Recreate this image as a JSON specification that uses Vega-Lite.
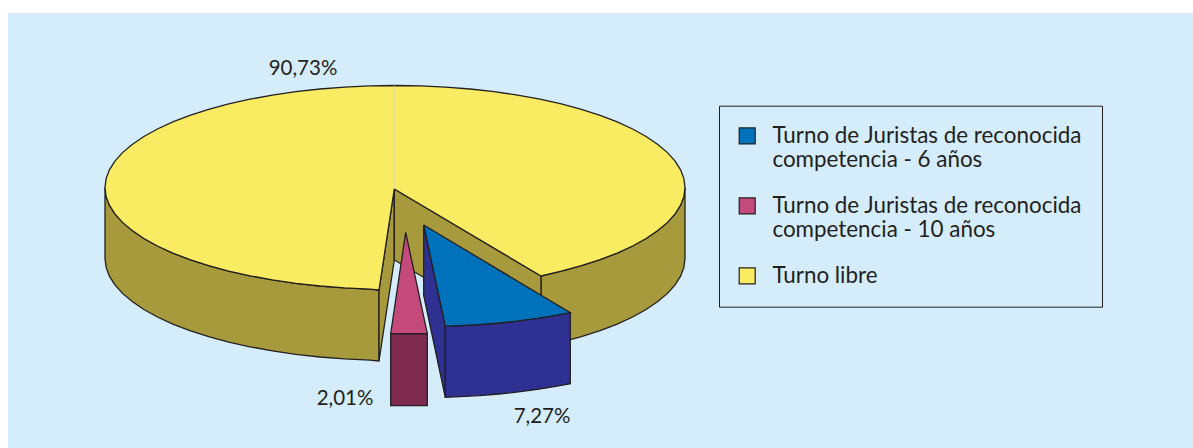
{"$schema":"https://vega.github.io/schema/vega-lite/v6.json","width":1185,"height":435,"padding":{"left":8,"top":13,"right":0,"bottom":0},"autosize":{"type":"none"},"background":"#FFFFFF","view":{"fill":"#D5EDFB","stroke":null},
"datasets":{"piezas":[
{"pieza":"izq","x":105,"y":187.5},{"pieza":"izq","x":106.1,"y":196.4},{"pieza":"izq","x":109.4,"y":205.2},{"pieza":"izq","x":114.9,"y":213.9},{"pieza":"izq","x":122.5,"y":222.4},{"pieza":"izq","x":132.2,"y":230.6},{"pieza":"izq","x":143.9,"y":238.5},{"pieza":"izq","x":157.4,"y":246},{"pieza":"izq","x":172.8,"y":253.1},{"pieza":"izq","x":189.9,"y":259.6},{"pieza":"izq","x":208.6,"y":265.6},{"pieza":"izq","x":228.7,"y":271.1},{"pieza":"izq","x":250,"y":275.8},{"pieza":"izq","x":272.4,"y":279.9},{"pieza":"izq","x":295.8,"y":283.3},{"pieza":"izq","x":319.9,"y":286},{"pieza":"izq","x":344.6,"y":287.9},{"pieza":"izq","x":369.7,"y":289.1},{"pieza":"izq","x":379,"y":290},{"pieza":"izq","x":379,"y":361},{"pieza":"izq","x":369.7,"y":360.1},{"pieza":"izq","x":344.6,"y":358.9},{"pieza":"izq","x":319.9,"y":357},{"pieza":"izq","x":295.8,"y":354.3},{"pieza":"izq","x":272.4,"y":350.9},{"pieza":"izq","x":250,"y":346.8},{"pieza":"izq","x":228.7,"y":342.1},{"pieza":"izq","x":208.6,"y":336.6},{"pieza":"izq","x":189.9,"y":330.6},{"pieza":"izq","x":172.8,"y":324.1},{"pieza":"izq","x":157.4,"y":317},{"pieza":"izq","x":143.9,"y":309.5},{"pieza":"izq","x":132.2,"y":301.6},{"pieza":"izq","x":122.5,"y":293.4},{"pieza":"izq","x":114.9,"y":284.9},{"pieza":"izq","x":109.4,"y":276.2},{"pieza":"izq","x":106.1,"y":267.4},{"pieza":"izq","x":105,"y":258.5},{"pieza":"izq","x":105,"y":187.5},
{"pieza":"der","x":541,"y":276},{"pieza":"der","x":561.3,"y":271.1},{"pieza":"der","x":581.4,"y":265.6},{"pieza":"der","x":600.1,"y":259.6},{"pieza":"der","x":617.2,"y":253.1},{"pieza":"der","x":632.6,"y":246},{"pieza":"der","x":646.1,"y":238.5},{"pieza":"der","x":657.8,"y":230.6},{"pieza":"der","x":667.5,"y":222.4},{"pieza":"der","x":675.1,"y":213.9},{"pieza":"der","x":680.6,"y":205.2},{"pieza":"der","x":683.9,"y":196.4},{"pieza":"der","x":685,"y":187.5},{"pieza":"der","x":685,"y":258.5},{"pieza":"der","x":683.9,"y":267.4},{"pieza":"der","x":680.6,"y":276.2},{"pieza":"der","x":675.1,"y":284.9},{"pieza":"der","x":667.5,"y":293.4},{"pieza":"der","x":657.8,"y":301.6},{"pieza":"der","x":646.1,"y":309.5},{"pieza":"der","x":632.6,"y":317},{"pieza":"der","x":617.2,"y":324.1},{"pieza":"der","x":600.1,"y":330.6},{"pieza":"der","x":581.4,"y":336.6},{"pieza":"der","x":561.3,"y":342.1},{"pieza":"der","x":541,"y":347},{"pieza":"der","x":541,"y":276},
{"pieza":"interior1","x":394.3,"y":189},{"pieza":"interior1","x":379,"y":290},{"pieza":"interior1","x":379,"y":361},{"pieza":"interior1","x":394.3,"y":260},{"pieza":"interior1","x":394.3,"y":189},
{"pieza":"interior2","x":394.3,"y":189},{"pieza":"interior2","x":541,"y":276},{"pieza":"interior2","x":541,"y":347},{"pieza":"interior2","x":394.3,"y":260},{"pieza":"interior2","x":394.3,"y":189},
{"pieza":"Turno libre","x":541,"y":276},{"pieza":"Turno libre","x":561.3,"y":271.1},{"pieza":"Turno libre","x":581.4,"y":265.6},{"pieza":"Turno libre","x":600.1,"y":259.6},{"pieza":"Turno libre","x":617.2,"y":253.1},{"pieza":"Turno libre","x":632.6,"y":246},{"pieza":"Turno libre","x":646.1,"y":238.5},{"pieza":"Turno libre","x":657.8,"y":230.6},{"pieza":"Turno libre","x":667.5,"y":222.4},{"pieza":"Turno libre","x":675.1,"y":213.9},{"pieza":"Turno libre","x":680.6,"y":205.2},{"pieza":"Turno libre","x":683.9,"y":196.4},{"pieza":"Turno libre","x":685,"y":187.5},{"pieza":"Turno libre","x":683.9,"y":178.6},{"pieza":"Turno libre","x":680.6,"y":169.8},{"pieza":"Turno libre","x":675.1,"y":161.1},{"pieza":"Turno libre","x":667.5,"y":152.6},{"pieza":"Turno libre","x":657.8,"y":144.4},{"pieza":"Turno libre","x":646.1,"y":136.5},{"pieza":"Turno libre","x":632.6,"y":129},{"pieza":"Turno libre","x":617.2,"y":121.9},{"pieza":"Turno libre","x":600.1,"y":115.4},{"pieza":"Turno libre","x":581.4,"y":109.4},{"pieza":"Turno libre","x":561.3,"y":103.9},{"pieza":"Turno libre","x":540,"y":99.2},{"pieza":"Turno libre","x":517.6,"y":95.1},{"pieza":"Turno libre","x":494.2,"y":91.7},{"pieza":"Turno libre","x":470.1,"y":89},{"pieza":"Turno libre","x":445.4,"y":87.1},{"pieza":"Turno libre","x":420.3,"y":85.9},{"pieza":"Turno libre","x":395,"y":85.5},{"pieza":"Turno libre","x":369.7,"y":85.9},{"pieza":"Turno libre","x":344.6,"y":87.1},{"pieza":"Turno libre","x":319.9,"y":89},{"pieza":"Turno libre","x":295.8,"y":91.7},{"pieza":"Turno libre","x":272.4,"y":95.1},{"pieza":"Turno libre","x":250,"y":99.2},{"pieza":"Turno libre","x":228.7,"y":103.9},{"pieza":"Turno libre","x":208.6,"y":109.4},{"pieza":"Turno libre","x":189.9,"y":115.4},{"pieza":"Turno libre","x":172.8,"y":121.9},{"pieza":"Turno libre","x":157.4,"y":129},{"pieza":"Turno libre","x":143.9,"y":136.5},{"pieza":"Turno libre","x":132.2,"y":144.4},{"pieza":"Turno libre","x":122.5,"y":152.6},{"pieza":"Turno libre","x":114.9,"y":161.1},{"pieza":"Turno libre","x":109.4,"y":169.8},{"pieza":"Turno libre","x":106.1,"y":178.6},{"pieza":"Turno libre","x":105,"y":187.5},{"pieza":"Turno libre","x":106.1,"y":196.4},{"pieza":"Turno libre","x":109.4,"y":205.2},{"pieza":"Turno libre","x":114.9,"y":213.9},{"pieza":"Turno libre","x":122.5,"y":222.4},{"pieza":"Turno libre","x":132.2,"y":230.6},{"pieza":"Turno libre","x":143.9,"y":238.5},{"pieza":"Turno libre","x":157.4,"y":246},{"pieza":"Turno libre","x":172.8,"y":253.1},{"pieza":"Turno libre","x":189.9,"y":259.6},{"pieza":"Turno libre","x":208.6,"y":265.6},{"pieza":"Turno libre","x":228.7,"y":271.1},{"pieza":"Turno libre","x":250,"y":275.8},{"pieza":"Turno libre","x":272.4,"y":279.9},{"pieza":"Turno libre","x":295.8,"y":283.3},{"pieza":"Turno libre","x":319.9,"y":286},{"pieza":"Turno libre","x":344.6,"y":287.9},{"pieza":"Turno libre","x":369.7,"y":289.1},{"pieza":"Turno libre","x":379,"y":290},{"pieza":"Turno libre","x":394.3,"y":189},{"pieza":"Turno libre","x":541,"y":276},
{"pieza":"lado10","x":390.7,"y":333.7},{"pieza":"lado10","x":427.3,"y":333.7},{"pieza":"lado10","x":427.3,"y":405.7},{"pieza":"lado10","x":390.7,"y":405.7},{"pieza":"lado10","x":390.7,"y":333.7},
{"pieza":"Turno de Juristas de reconocida competencia - 10 años","x":405.7,"y":232.3},{"pieza":"Turno de Juristas de reconocida competencia - 10 años","x":427.3,"y":333.7},{"pieza":"Turno de Juristas de reconocida competencia - 10 años","x":390.7,"y":333.7},{"pieza":"Turno de Juristas de reconocida competencia - 10 años","x":405.7,"y":232.3},
{"pieza":"interior6","x":423.7,"y":225},{"pieza":"interior6","x":445.3,"y":326.2},{"pieza":"interior6","x":445.3,"y":397.3},{"pieza":"interior6","x":423.7,"y":295.5},{"pieza":"interior6","x":423.7,"y":225},
{"pieza":"lado6","x":570.3,"y":312.7},{"pieza":"lado6","x":555.7,"y":315.4},{"pieza":"lado6","x":537.3,"y":318.4},{"pieza":"lado6","x":518.4,"y":320.9},{"pieza":"lado6","x":499.1,"y":323},{"pieza":"lado6","x":479.3,"y":324.6},{"pieza":"lado6","x":459.4,"y":325.7},{"pieza":"lado6","x":445.3,"y":326.2},{"pieza":"lado6","x":445.3,"y":397.3},{"pieza":"lado6","x":459.4,"y":396.7},{"pieza":"lado6","x":479.3,"y":395.6},{"pieza":"lado6","x":499.1,"y":394},{"pieza":"lado6","x":518.4,"y":391.9},{"pieza":"lado6","x":537.3,"y":389.4},{"pieza":"lado6","x":555.7,"y":386.4},{"pieza":"lado6","x":570.3,"y":383.7},{"pieza":"lado6","x":570.3,"y":312.7},
{"pieza":"Turno de Juristas de reconocida competencia - 6 años","x":423.7,"y":225},{"pieza":"Turno de Juristas de reconocida competencia - 6 años","x":570.3,"y":312.7},{"pieza":"Turno de Juristas de reconocida competencia - 6 años","x":555.7,"y":315.4},{"pieza":"Turno de Juristas de reconocida competencia - 6 años","x":537.3,"y":318.4},{"pieza":"Turno de Juristas de reconocida competencia - 6 años","x":518.4,"y":320.9},{"pieza":"Turno de Juristas de reconocida competencia - 6 años","x":499.1,"y":323},{"pieza":"Turno de Juristas de reconocida competencia - 6 años","x":479.3,"y":324.6},{"pieza":"Turno de Juristas de reconocida competencia - 6 años","x":459.4,"y":325.7},{"pieza":"Turno de Juristas de reconocida competencia - 6 años","x":445.3,"y":326.2},{"pieza":"Turno de Juristas de reconocida competencia - 6 años","x":423.7,"y":225}
],
"porcentajes":[{"porcentaje":"90,73%","x":303,"y":69},{"porcentaje":"2,01%","x":345,"y":399},{"porcentaje":"7,27%","x":542,"y":417}],
"costura":[{"x":394.5,"y":85.5},{"x":394.5,"y":189}]},
"layer":[
{"data":{"name":"piezas"},"transform":[{"window":[{"op":"row_number","as":"orden"}]}],
"mark":{"type":"line","stroke":"#231F20","strokeWidth":1.3,"strokeJoin":"miter"},
"encoding":{
"x":{"field":"x","type":"quantitative","axis":null,"scale":{"domain":[8,1193],"nice":false,"zero":false}},
"y":{"field":"y","type":"quantitative","axis":null,"scale":{"domain":[448,13],"nice":false,"zero":false}},
"order":{"field":"orden","type":"quantitative"},
"fill":{"field":"pieza","type":"nominal","sort":null,
"scale":{"domain":["Turno de Juristas de reconocida competencia - 6 años","Turno de Juristas de reconocida competencia - 10 años","Turno libre","izq","der","interior1","interior2","lado10","interior6","lado6"],"range":["#0072BC","#C44A7C","#F9EC63","#A69A3C","#A69A3C","#A69A3C","#A69A3C","#7F2A4F","#2E3092","#2E3092"]},
"legend":{"title":null,"values":["Turno de Juristas de reconocida competencia - 6 años","Turno de Juristas de reconocida competencia - 10 años","Turno libre"],"orient":"none","legendX":711,"legendY":92.7,"padding":19,"strokeColor":"#231F20","symbolType":"square","symbolSize":256,"symbolOffset":-2,"symbolStrokeColor":"#231F20","symbolStrokeWidth":1.2,"labelFont":"Lato","labelFontSize":22.4,"labelColor":"#231F20","labelLimit":400,"labelOffset":14,"rowPadding":23,"labelExpr":"split(replace(datum.label,' competencia','|competencia'),'|')"}}}},
{"data":{"name":"costura"},"mark":{"type":"line","stroke":"#DDD89A","strokeWidth":0.8},"encoding":{"x":{"field":"x","type":"quantitative"},"y":{"field":"y","type":"quantitative"}}},
{"data":{"name":"porcentajes"},"mark":{"type":"text","font":"Lato","fontSize":20.5,"color":"#231F20"},"encoding":{"x":{"field":"x","type":"quantitative"},"y":{"field":"y","type":"quantitative"},"text":{"field":"porcentaje"}}}
]}
